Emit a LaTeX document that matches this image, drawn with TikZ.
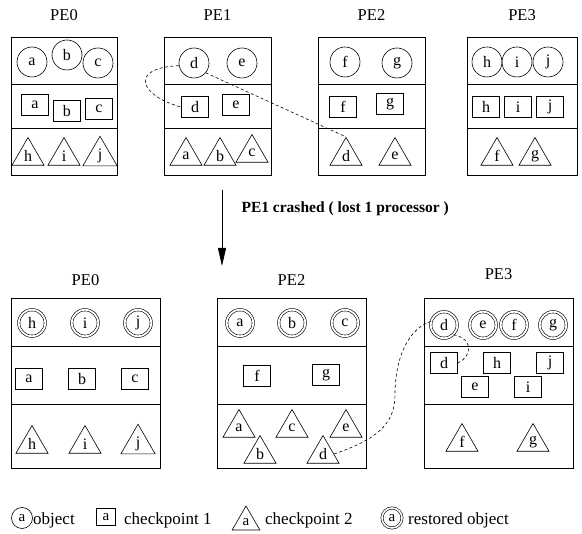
\documentclass[tikz,border=0pt]{standalone}
\usepackage{fontspec}
\setmainfont{Liberation Serif}
\usetikzlibrary{shapes.geometric,arrows.meta}
\begin{document}
\begin{tikzpicture}[x=1pt,y=-1pt,
  every node/.style={font=\fontsize{16}{18}\selectfont},
  box/.style={draw,line width=0.9pt},
  pelabel/.style={font=\fontsize{16.5}{19}\selectfont},
  obj/.style={draw,circle,minimum size=30pt,inner sep=0pt,line width=0.6pt},
  rest/.style={draw,circle,minimum size=26.5pt,inner sep=0pt,double,double distance=1.8pt,line width=0.6pt},
  ckone/.style={draw,rectangle,minimum width=27pt,minimum height=21pt,inner sep=0pt,line width=0.7pt},
  cktwo/.style={draw,regular polygon,regular polygon sides=3,minimum size=37pt,inner sep=0pt,line width=0.6pt},
  link/.style={dashed,dash pattern=on 3pt off 2.5pt,line width=0.6pt},
  legtext/.style={anchor=west,inner sep=0pt,font=\fontsize{17}{19}\selectfont}]
\useasboundingbox (0,0) rectangle (582,534);

% ---------- before the crash ----------
\foreach \x/\w/\n in {11/106/0,164/107/1,318/107/2,467/110/3}{
  \draw[box] (\x,37) rectangle ++(\w,138);
  \draw[box] (\x,84) -- ++(\w,0);
  \draw[box] (\x,128) -- ++(\w,0);
  \node[pelabel] (top\n) at (\x+\w/2,15) {PE\n};
}
% PE0
\node[obj] (t0a) at (32,62) {a};
\node[obj] (t0b) at (67,55) {b};
\node[obj] (t0c) at (98,63) {c};
\node[ckone] (t0sa) at (35,105) {a};
\node[ckone] (t0sb) at (67,111) {b};
\node[ckone] (t0sc) at (99,109) {c};
\node[cktwo] (t0th) at (28,156) {h};
\node[cktwo] (t0ti) at (64,156) {i};
\node[cktwo] (t0tj) at (100,156) {j};
% PE1
\node[obj] (t1d) at (194,63) {d};
\node[obj] (t1e) at (242,63) {e};
\node[ckone] (t1sd) at (195,107) {d};
\node[ckone] (t1se) at (236,105) {e};
\node[cktwo] (t1ta) at (186,156) {a};
\node[cktwo] (t1tb) at (220,156) {b};
\node[cktwo] (t1tc) at (252,153) {c};
% PE2
\node[obj] (t2f) at (345,62) {f};
\node[obj] (t2g) at (397,63) {g};
\node[ckone] (t2sf) at (343,107) {f};
\node[ckone] (t2sg) at (390,104) {g};
\node[cktwo] (t2td) at (346,156) {d};
\node[cktwo] (t2te) at (395,156) {e};
% PE3
\node[obj] (t3h) at (487,62) {h};
\node[obj] (t3i) at (517,62) {i};
\node[obj] (t3j) at (548,62) {j};
\node[ckone] (t3sh) at (486,107) {h};
\node[ckone] (t3si) at (518,107) {i};
\node[ckone] (t3sj) at (550,107) {j};
\node[cktwo] (t3tf) at (497,156) {f};
\node[cktwo] (t3tg) at (535,156) {g};

% where object d keeps its checkpoints
\draw[link] (t1d.190) .. controls (128,68) and (140,96) .. (t1sd.west);
\draw[link] (t1d.-40) -- (t2td.corner 1);

% ---------- crash ----------
\coordinate (arrtop) at (222,190);
\coordinate (arrbot) at (222,266);
\draw[line width=0.8pt,-{Triangle[length=18pt,width=8pt]}] (arrtop) -- (arrbot);
\node[anchor=west,font=\fontsize{15.5}{18}\selectfont\bfseries] (crash) at (238,209)
  {PE1 crashed ( lost 1 processor )};

% ---------- after the crash ----------
\foreach \x/\n/\ly in {11/0/280,217/2/280,424/3/274}{
  \draw[box] (\x,298) rectangle ++(149,170);
  \draw[box] (\x,346) -- ++(149,0);
  \draw[box] (\x,404) -- ++(149,0);
  \node[pelabel] (bot\n) at (\x+74.5,\ly) {PE\n};
}
% PE0
\node[rest] (b0h) at (32,323) {h};
\node[rest] (b0i) at (85,323) {i};
\node[rest] (b0j) at (138,323) {j};
\node[ckone] (b0sa) at (29,379) {a};
\node[ckone] (b0sb) at (82,379) {b};
\node[ckone] (b0sc) at (135,379) {c};
\node[cktwo] (b0th) at (32,444) {h};
\node[cktwo] (b0ti) at (85,444) {i};
\node[cktwo] (b0tj) at (138,444) {j};
% PE2
\node[rest] (b2a) at (240,323) {a};
\node[rest] (b2b) at (292,323) {b};
\node[rest] (b2c) at (345,323) {c};
\node[ckone] (b2sf) at (257,376) {f};
\node[ckone] (b2sg) at (326,375) {g};
\node[cktwo] (b2ta) at (239,428) {a};
\node[cktwo] (b2tc) at (292,428) {c};
\node[cktwo] (b2te) at (346,428) {e};
\node[cktwo] (b2tb) at (260,454) {b};
\node[cktwo] (b2td) at (323,454) {d};
% PE3
\node[rest] (b3d) at (444,325) {d};
\node[rest] (b3e) at (483,325) {e};
\node[rest] (b3f) at (514,325) {f};
\node[rest] (b3g) at (553,325) {g};
\node[ckone] (b3sd) at (444,363) {d};
\node[ckone] (b3sh) at (497,363) {h};
\node[ckone] (b3sj) at (550,363) {j};
\node[ckone] (b3se) at (475,387) {e};
\node[ckone] (b3si) at (528,387) {i};
\node[cktwo] (b3tf) at (462,442) {f};
\node[cktwo] (b3tg) at (533,442) {g};

% restored object d and its checkpoints
\draw[link] (b2td.east) .. controls (375,440) and (395,425) .. (395,395)
  .. controls (395,355) and (410,328) .. (b3d.165);
\draw[link] (b3d.-45) .. controls (476,340) and (470,358) .. (b3sd.east);

% ---------- legend ----------
\begin{scope}[every node/.style={font=\fontsize{15}{17}\selectfont}]
\node[draw,circle,minimum size=21pt,inner sep=0pt,line width=0.6pt] (lobj) at (22,518) {a};
\node[legtext] (lobjt) at (33,520) {object};
\node[draw,rectangle,minimum width=19pt,minimum height=17pt,inner sep=0pt,line width=0.6pt] (lck) at (106,517) {a};
\node[legtext] (lckt) at (124,520) {checkpoint 1};
\node[draw,regular polygon,regular polygon sides=3,minimum size=32pt,inner sep=0pt,line width=0.6pt] (lcktwo) at (246,522) {a};
\node[legtext] (lcktwot) at (265,520) {checkpoint 2};
\node[draw,circle,minimum size=20pt,inner sep=0pt,double,double distance=1.6pt,line width=0.6pt] (lrest) at (392,518) {a};
\node[legtext] (lrestt) at (408,520) {restored object};
\end{scope}
\end{tikzpicture}
\end{document}
